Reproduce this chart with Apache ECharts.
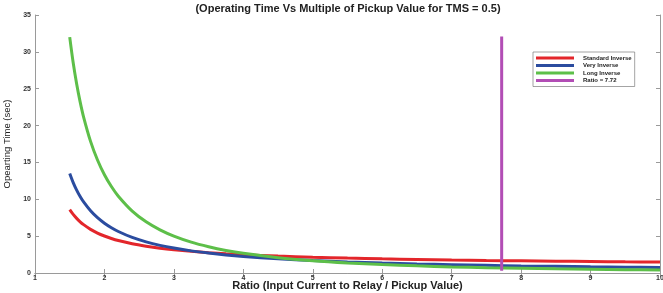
<!DOCTYPE html>
<html><head><meta charset="utf-8">
<script src="https://cdn.jsdelivr.net/npm/echarts@6/dist/echarts.min.js"></script>
<style>html,body{margin:0;padding:0;background:#fff}#c{width:663px;height:293px}</style>
</head><body><div id="c"></div>
<script>
var ratios = [1.5,1.55,1.6,1.65,1.7,1.8,1.9,2,2.1,2.2,2.4,2.6,2.8,3,3.25,3.5,3.75,4,4.5,5,5.5,6,6.5,7,7.5,8,8.5,9,9.5,10];
var standardInverse = [8.60,7.95,7.41,6.95,6.56,5.92,5.42,5.02,4.68,4.40,3.96,3.63,3.36,3.15,2.94,2.76,2.61,2.49,2.29,2.14,2.02,1.92,1.84,1.76,1.70,1.65,1.60,1.56,1.52,1.49];
var veryInverse = [13.5,12.27,11.25,10.38,9.64,8.44,7.5,6.75,6.14,5.63,4.82,4.22,3.75,3.38,3.0,2.7,2.45,2.25,1.93,1.69,1.5,1.35,1.23,1.13,1.04,0.96,0.9,0.84,0.79,0.75];
var longInverse = [32,28.52,25.64,23.22,21.16,17.86,15.33,13.33,11.73,10.42,8.40,6.94,5.85,5.0,4.18,3.56,3.06,2.67,2.08,1.67,1.37,1.14,0.97,0.83,0.72,0.64,0.56,0.50,0.45,0.40];
var ratioLineX = [7.72,7.72];
var ratioLineY = [0.3,32.1];
var xTicks = [1,2,3,4,5,6,7,8,9,10];
var yTicks = [0,5,10,15,20,25,30,35];

function pairs(xs, ys){ return xs.map(function(x,i){return [x, ys[i]];}); }

var chart = echarts.init(document.getElementById('c'), null, {renderer:'canvas'});
var axisCol = '#9a9a9a';
var lblStyle = {fontSize:7, fontWeight:'bold', color:'#333', fontFamily:'Liberation Sans, Arial'};
chart.setOption({
  animation:false,
  backgroundColor:'#fff',
  graphic:[{type:'text', x:348, y:3, style:{text:'(Operating Time Vs Multiple of Pickup Value for TMS = 0.5)', fontSize:11, fontWeight:'bold', fill:'#222', fontFamily:'Liberation Sans, Arial', align:'center', textAlign:'center'}}],
  grid:{left:35, right:3, top:15, bottom:20, containLabel:false, outerBoundsMode:'none'},
  legend:{
    orient:'vertical', left:533, top:52, width:109,
    itemWidth:38, itemHeight:3, itemGap:1.5,
    padding:[3,3,3,3],
    borderColor:'#666', borderWidth:0.6, backgroundColor:'#fff',
    textStyle:{fontSize:6, fontWeight:'bold', color:'#222', fontFamily:'Liberation Sans, Arial', lineHeight:6, padding:[0,0,0,4]},
    icon:'rect',
    data:['Standard Inverse','Very Inverse','Long Inverse','Ratio = 7.72']
  },
  xAxis:[{
    type:'value', min:1, max:10, interval:1,
    name:'Ratio (Input Current to Relay / Pickup Value)', nameLocation:'middle', nameGap:7, nameMoveOverlap:false,
    nameTextStyle:{fontSize:11, fontWeight:'bold', color:'#222', fontFamily:'Liberation Sans, Arial'},
    axisLine:{show:true, lineStyle:{color:axisCol, width:1}},
    axisTick:{show:true, inside:true, length:4, lineStyle:{color:axisCol}},
    axisLabel:Object.assign({margin:2, formatter:function(v){return xTicks.indexOf(v)>=0?String(v):'';}}, lblStyle),
    splitLine:{show:false}
  },{
    type:'value', position:'top', min:1, max:10, interval:1,
    axisLine:{show:true, lineStyle:{color:axisCol, width:1}},
    axisTick:{show:true, inside:true, length:4, lineStyle:{color:axisCol}},
    axisLabel:{show:false}, splitLine:{show:false}
  }],
  yAxis:[{
    type:'value', min:0, max:35, interval:5,
    name:'Opearting Time (sec)', nameLocation:'middle', nameGap:23, nameMoveOverlap:false,
    nameTextStyle:{fontSize:9.5, color:'#222', fontFamily:'Liberation Sans, Arial'},
    axisLine:{show:true, lineStyle:{color:axisCol, width:1}},
    axisTick:{show:true, inside:true, length:4, lineStyle:{color:axisCol}},
    axisLabel:Object.assign({margin:4, formatter:function(v){return yTicks.indexOf(v)>=0?String(v):'';}}, lblStyle),
    splitLine:{show:false}
  },{
    type:'value', position:'right', min:0, max:35, interval:5,
    axisLine:{show:true, lineStyle:{color:axisCol, width:1}},
    axisTick:{show:true, inside:true, length:4, lineStyle:{color:axisCol}},
    axisLabel:{show:false}, splitLine:{show:false}
  }],
  series:[
    {name:'Standard Inverse', type:'line', smooth:0.3, showSymbol:false, data:pairs(ratios, standardInverse), lineStyle:{color:'#e3262b', width:3}, itemStyle:{color:'#e3262b'}, z:3},
    {name:'Very Inverse', type:'line', smooth:0.3, showSymbol:false, data:pairs(ratios, veryInverse), lineStyle:{color:'#2b4c9f', width:3}, itemStyle:{color:'#2b4c9f'}, z:4},
    {name:'Long Inverse', type:'line', smooth:0.3, showSymbol:false, data:pairs(ratios, longInverse), lineStyle:{color:'#5dbf49', width:3}, itemStyle:{color:'#5dbf49'}, z:5},
    {name:'Ratio = 7.72', type:'line', showSymbol:false, data:pairs(ratioLineX, ratioLineY), lineStyle:{color:'#b24db5', width:3}, itemStyle:{color:'#b24db5'}, z:6}
  ]
});
</script></body></html>
